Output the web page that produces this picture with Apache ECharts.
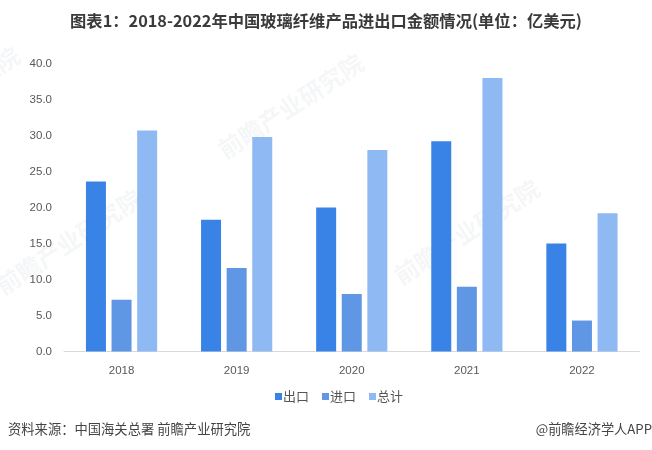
<!DOCTYPE html>
<html>
<head>
    <meta charset="utf-8">
    <title>ECharts</title>
    <script src="https://cdn.jsdelivr.net/npm/echarts@6/dist/echarts.min.js"></script>
    <style>html,body{margin:0;padding:0;background:#fff;}</style>
</head>
<body>
<div id="main" style="width: 652px;height:450px;"></div>
<script type="text/javascript">
    var years = ['2018', '2019', '2020', '2021', '2022'];
    var exportValues = [23.6, 18.3, 20.0, 29.2, 15.0];
    var importValues = [7.2, 11.6, 8.0, 9.0, 4.3];
    var totalValues = [30.7, 29.8, 28.0, 38.0, 19.2];

    var cjk = '"Noto Sans CJK SC", sans-serif';

    // 水印
    function mark(x, y) {
        return {
            type: 'text', x: x, y: y, rotation: 0.58, silent: true,
            style: { text: '前瞻产业研究院', font: 'bold 24px ' + cjk, fill: 'rgba(60,70,100,0.05)' }
        };
    }

    var myChart = echarts.init(document.getElementById('main'));
    var option = {
        animation: false,
        backgroundColor: '#fff',
        title: [
            {
                text: '图表1：2018-2022年中国玻璃纤维产品进出口金额情况(单位：亿美元)',
                left: 326, top: 13, padding: 0, textAlign: 'center',
                textStyle: { fontFamily: cjk, fontSize: 16.3, fontWeight: 'bold', color: '#3a3a3a' }
            },
            {
                text: '资料来源：中国海关总署 前瞻产业研究院',
                left: 8, top: 422, padding: 0,
                textStyle: { fontFamily: cjk, fontSize: 13.3, fontWeight: 'normal', color: '#444' }
            },
            {
                text: '@前瞻经济学人APP',
                right: 0, top: 422, padding: 0,
                textStyle: { fontFamily: cjk, fontSize: 13.2, fontWeight: 'normal', color: '#444' }
            }
        ],
        legend: {
            data: ['出口', '进口', '总计'],
            left: 270, top: 385,
            itemWidth: 7, itemHeight: 7, itemGap: 13,
            icon: 'rect',
            textStyle: { fontFamily: cjk, fontSize: 13, color: '#555', padding: [0, 0, 0, -4] }
        },
        grid: { left: 64, right: 12.5, top: 63.5, bottom: 98.5 },
        xAxis: {
            type: 'category',
            data: years,
            axisLine: { lineStyle: { color: '#d9d9d9' } },
            axisTick: { show: false },
            axisLabel: { color: '#595959', fontSize: 11.5, margin: 13, fontFamily: 'Liberation Sans' }
        },
        yAxis: {
            type: 'value',
            min: 0, max: 40, interval: 5,
            axisLine: { show: false },
            axisTick: { show: false },
            splitLine: { show: false },
            axisLabel: {
                color: '#595959', fontSize: 11.5, margin: 12, fontFamily: 'Liberation Sans',
                formatter: function (v) { return v.toFixed(1); }
            }
        },
        series: [
            { name: '出口', type: 'bar', data: exportValues, barWidth: 20, barGap: '28%', itemStyle: { color: '#3a83e6' } },
            { name: '进口', type: 'bar', data: importValues, barWidth: 20, itemStyle: { color: '#5f97e4' } },
            { name: '总计', type: 'bar', data: totalValues, barWidth: 20, itemStyle: { color: '#8fb9f2' } }
        ],
        graphic: [
            mark(214, 142),
            mark(390, 268),
            mark(-8, 278),
            mark(-130, 135)
        ]
    };
    myChart.setOption(option);
</script>
</body>
</html>
